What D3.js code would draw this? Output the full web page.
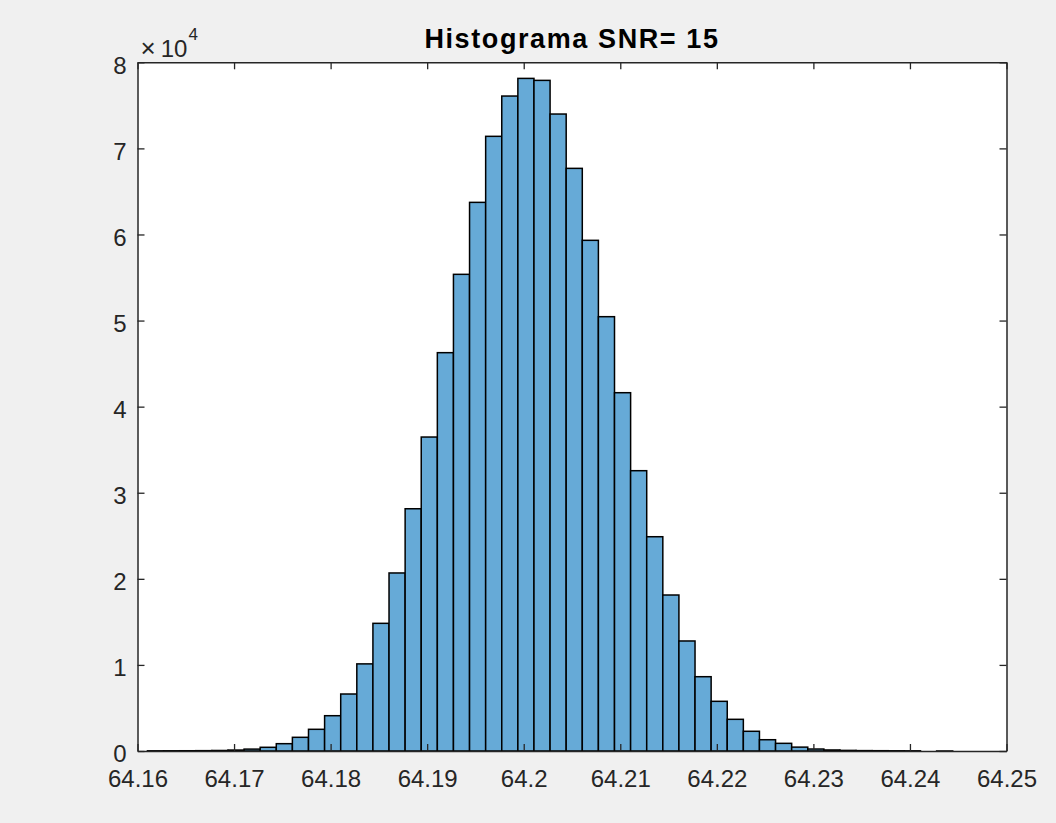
<!DOCTYPE html>
<html>
<head>
<meta charset="utf-8">
<script src="https://cdn.jsdelivr.net/npm/d3@7"></script>
<style>
  html, body { margin: 0; padding: 0; background: #f0f0f0; }
  svg { display: block; }
  text { font-family: "Liberation Sans", Arial, sans-serif; fill: #262626; }
</style>
</head>
<body>
<svg id="chart" width="1056" height="823"></svg>
<script>
// Histogram bins: first edge, common width, and count per bin
const binStart = 64.16103;
const binWidth = 0.001668;
const counts = [
  20, 25, 30, 40, 60, 110, 220, 430, 850, 1590,
  2520, 4100, 6620, 10120, 14830, 20680, 28140, 36470, 46270, 55370,
  63730, 71400, 76080, 78130, 77900, 73990, 67680, 59320, 50450, 41620,
  32560, 24890, 18120, 12780, 8630, 5770, 3680, 2290, 1310, 890,
  450, 230, 120, 70, 45, 35, 25, 20, 0, 1
];

// Axis ticks
const xTicks = [64.16, 64.17, 64.18, 64.19, 64.2, 64.21, 64.22, 64.23, 64.24, 64.25];
const xTickLabels = ["64.16", "64.17", "64.18", "64.19", "64.2", "64.21", "64.22", "64.23", "64.24", "64.25"];
const yTicks = [0, 10000, 20000, 30000, 40000, 50000, 60000, 70000, 80000];
const yTickLabels = ["0", "1", "2", "3", "4", "5", "6", "7", "8"];
const titleText = "Histograma SNR= 15";

const svg = d3.select("#chart");
const plotLeft = 137.5, plotRight = 1006.5, plotTop = 62.3, plotBottom = 751;

const x = d3.scaleLinear().domain([64.16, 64.25]).range([plotLeft, plotRight]);
const y = d3.scaleLinear().domain([0, 80000]).range([plotBottom, plotTop]);

// Plot area background
svg.append("rect")
  .attr("x", plotLeft).attr("y", plotTop)
  .attr("width", plotRight - plotLeft).attr("height", plotBottom - plotTop)
  .attr("fill", "#ffffff");

// Bars
const bins = counts.map((c, i) => ({
  x0: binStart + i * binWidth,
  x1: binStart + (i + 1) * binWidth,
  count: c
}));

svg.append("g")
  .selectAll("rect")
  .data(bins)
  .join("rect")
  .attr("x", d => x(d.x0))
  .attr("y", d => y(d.count))
  .attr("width", d => x(d.x1) - x(d.x0))
  .attr("height", d => y(0) - y(d.count))
  .attr("fill", "#66aad7")
  .attr("stroke", "#000000")
  .attr("stroke-width", 1.5);

// Axes with inward ticks on all four sides
const tickLen = 7;
const axisColor = "#262626";

function styleAxis(g, showLabels) {
  g.select(".domain").attr("stroke", axisColor).attr("stroke-width", 1.5);
  g.selectAll(".tick line").attr("stroke", axisColor).attr("stroke-width", 1.3);
  if (!showLabels) g.selectAll(".tick text").remove();
  else g.selectAll(".tick text").attr("fill", "#303030").style("font-size", "24px");
}

const xBottom = svg.append("g")
  .attr("transform", `translate(0,${plotBottom})`)
  .call(d3.axisBottom(x).tickValues(xTicks)
    .tickFormat((d, i) => xTickLabels[i])
    .tickSizeInner(-tickLen).tickSizeOuter(0));
styleAxis(xBottom, true);
xBottom.selectAll(".tick text").attr("dy", "0.71em").attr("y", 19);

const xTop = svg.append("g")
  .attr("transform", `translate(0,${plotTop})`)
  .call(d3.axisTop(x).tickValues(xTicks).tickSizeInner(-tickLen).tickSizeOuter(0));
styleAxis(xTop, false);

const yLeft = svg.append("g")
  .attr("transform", `translate(${plotLeft},0)`)
  .call(d3.axisLeft(y).tickValues(yTicks)
    .tickFormat((d, i) => yTickLabels[i])
    .tickSizeInner(-tickLen).tickSizeOuter(0));
styleAxis(yLeft, true);
yLeft.selectAll(".tick text").attr("x", -11).attr("dy", "0.45em");

const yRight = svg.append("g")
  .attr("transform", `translate(${plotRight},0)`)
  .call(d3.axisRight(y).tickValues(yTicks).tickSizeInner(-tickLen).tickSizeOuter(0));
styleAxis(yRight, false);

// Exponent marker for the y axis
const expo = svg.append("text")
  .attr("x", plotLeft + 3).attr("y", 56.5)
  .style("font-size", "24px")
  .attr("fill", "#303030");
expo.append("tspan").style("font-size", "26px").text("\u00d7");
expo.append("tspan").attr("dx", 5).text("10");
expo.append("tspan").attr("dy", -17).attr("dx", 1).style("font-size", "17px").text("4");

// Title
svg.append("text")
  .attr("x", (plotLeft + plotRight) / 2)
  .attr("y", 48)
  .attr("text-anchor", "middle")
  .style("font-size", "27px")
  .style("font-weight", "bold")
  .style("letter-spacing", "1.6px")
  .style("fill", "#000000")
  .text(titleText);
</script>
</body>
</html>
